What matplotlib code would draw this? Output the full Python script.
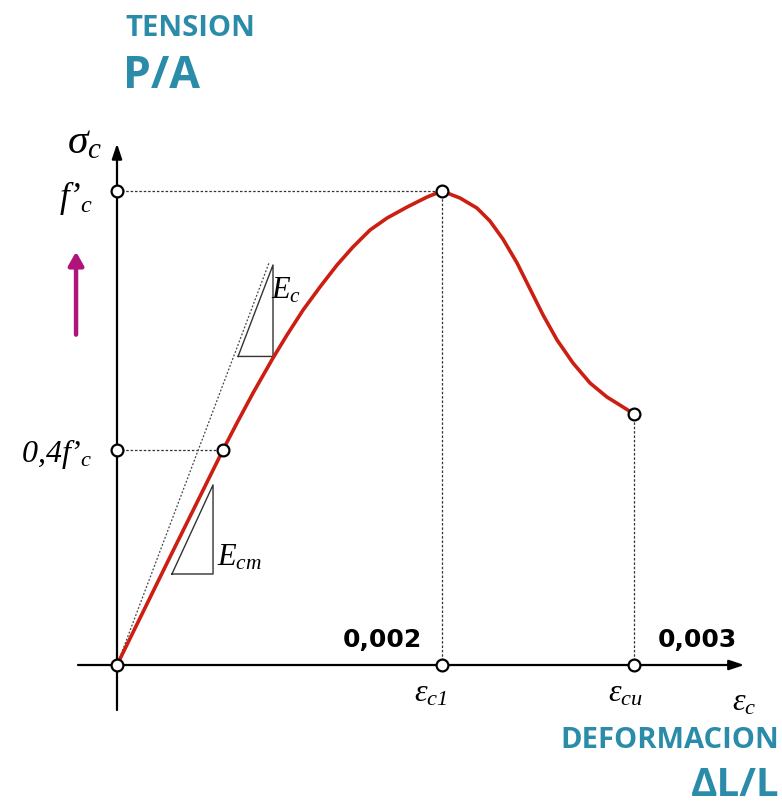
import numpy as np
import matplotlib.pyplot as plt

plt.rcParams['mathtext.fontset'] = 'custom'
plt.rcParams['mathtext.rm'] = 'Liberation Serif:italic'
plt.rcParams['mathtext.it'] = 'Liberation Serif:italic'
plt.rcParams['mathtext.bf'] = 'Liberation Serif:bold'

# curva tension-deformacion del hormigon (deformacion en por mil, tension / f'c)
eps = [0.0, 0.326, 0.652, 0.738, 0.837, 0.960, 1.046, 1.145, 1.249, 1.354,
       1.452, 1.557, 1.662, 1.785, 1.908, 2.0, 2.111, 2.215, 2.295, 2.375,
       2.462, 2.542, 2.622, 2.708, 2.806, 2.911, 3.015, 3.114, 3.182]
sig = [0.0, 0.2278, 0.4536, 0.5105, 0.5738, 0.6477, 0.6962, 0.7489, 0.7975, 0.8439,
       0.8819, 0.9177, 0.9430, 0.9662, 0.9873, 1.0, 0.9852, 0.9641, 0.9367, 0.8987,
       0.8481, 0.7932, 0.7384, 0.6857, 0.6371, 0.5949, 0.5654, 0.5443, 0.5295]

eps_c1, eps_cu = 2.0, 3.182
sig_04, sig_cu = 0.4536, 0.5295
eps_04 = 0.652

# tangente en el origen (Ec)
tan_end = (0.935, 0.848)
# triangulos de pendiente
tri_ec = [(0.745, 0.651), (0.960, 0.651), (0.960, 0.844)]
tri_ecm = [(0.338, 0.192), (0.591, 0.192), (0.591, 0.380)]

teal = '#2a8ca8'
red = '#cc1f12'

fig = plt.figure(figsize=(7.82, 8.1), dpi=100)
ax = fig.add_axes([0, 0, 1, 1])
ax.set_xlim(-0.72, 4.0923)
ax.set_ylim(-0.3059, 1.4030)
ax.axis('off')

# ejes con flechas
ax.annotate('', xy=(3.86, 0), xytext=(-0.24, 0),
            arrowprops=dict(arrowstyle='-|>,head_length=0.9,head_width=0.3',
                            color='black', lw=1.6, shrinkA=0, shrinkB=0))
ax.annotate('', xy=(0, 1.10), xytext=(0, -0.095),
            arrowprops=dict(arrowstyle='-|>,head_length=0.9,head_width=0.3',
                            color='black', lw=1.6, shrinkA=0, shrinkB=0))

# lineas de referencia punteadas
dot = dict(color='#333333', lw=0.9, ls=(0, (2, 1.5)))
ax.plot([0, eps_c1], [1, 1], **dot)
ax.plot([0, eps_04], [sig_04, sig_04], **dot)
ax.plot([eps_c1, eps_c1], [0, 1], **dot)
ax.plot([eps_cu, eps_cu], [0, sig_cu], **dot)
ax.plot([0, tan_end[0]], [0, tan_end[1]], color='#444444', lw=0.9, ls=(0, (1.5, 1.5)))

# triangulos
for tri in (tri_ec, tri_ecm):
    xs = [p[0] for p in tri] + [tri[0][0]]
    ys = [p[1] for p in tri] + [tri[0][1]]
    ax.plot(xs, ys, color='#333333', lw=1.0)

# curva
ax.plot(eps, sig, color=red, lw=2.6, solid_joinstyle='round', solid_capstyle='round')

# puntos
px = [0, 0, 0, eps_04, eps_c1, eps_c1, eps_cu, eps_cu]
py = [1, sig_04, 0, sig_04, 1, 0, sig_cu, 0]
ax.plot(px, py, 'o', ms=8.5, mfc='white', mec='black', mew=1.6, zorder=5)

# etiquetas matematicas
ax.text(-0.2, 1.105, r'$\sigma_c$', fontsize=30, ha='center', va='center')
ax.text(-0.15, 0.985, r"$f’_c$", fontsize=25, ha='right', va='center')
ax.text(-0.15, 0.445, r"$0{,}4f’_c$", fontsize=23, ha='right', va='center')
ax.text(0.95, 0.79, r'$E_c$', fontsize=22, ha='left', va='center')
ax.text(0.615, 0.228, r'$E_{cm}$', fontsize=22, ha='left', va='center')
ax.text(eps_c1 - 0.07, -0.06, r'$\varepsilon_{c1}$', fontsize=23, ha='center', va='center')
ax.text(eps_cu - 0.05, -0.06, r'$\varepsilon_{cu}$', fontsize=23, ha='center', va='center')
ax.text(3.86, -0.078, r'$\varepsilon_c$', fontsize=23, ha='center', va='center')

ax.text(1.631, 0.053, '0,002', fontsize=18, fontweight='bold', ha='center', va='center')
ax.text(3.569, 0.053, '0,003', fontsize=18, fontweight='bold', ha='center', va='center')

# textos en azul
fig.text(125 / 782, 1 - 28 / 810, 'TENSION', fontsize=21, fontweight='bold',
         family='Open Sans', color=teal, ha='left', va='center')
fig.text(123 / 782, 1 - 76 / 810, 'P/A', fontsize=32, fontweight='bold',
         family='Open Sans', color=teal, ha='left', va='center')
fig.text(779 / 782, 1 - 741 / 810, 'DEFORMACION', fontsize=21, fontweight='bold',
         family='Open Sans', color=teal, ha='right', va='center')
fig.text(779 / 782, 1 - 786 / 810, 'ΔL/L', fontsize=29, fontweight='bold',
         family='Open Sans', color=teal, ha='right', va='center')

# flecha magenta
ax.annotate('', xy=(-0.252, 0.872), xytext=(-0.252, 0.697),
            arrowprops=dict(arrowstyle='-|>,head_length=0.8,head_width=0.45',
                            color='#b0137a', lw=3.2, shrinkA=0, shrinkB=0))

plt.savefig('out.png', dpi=100)
